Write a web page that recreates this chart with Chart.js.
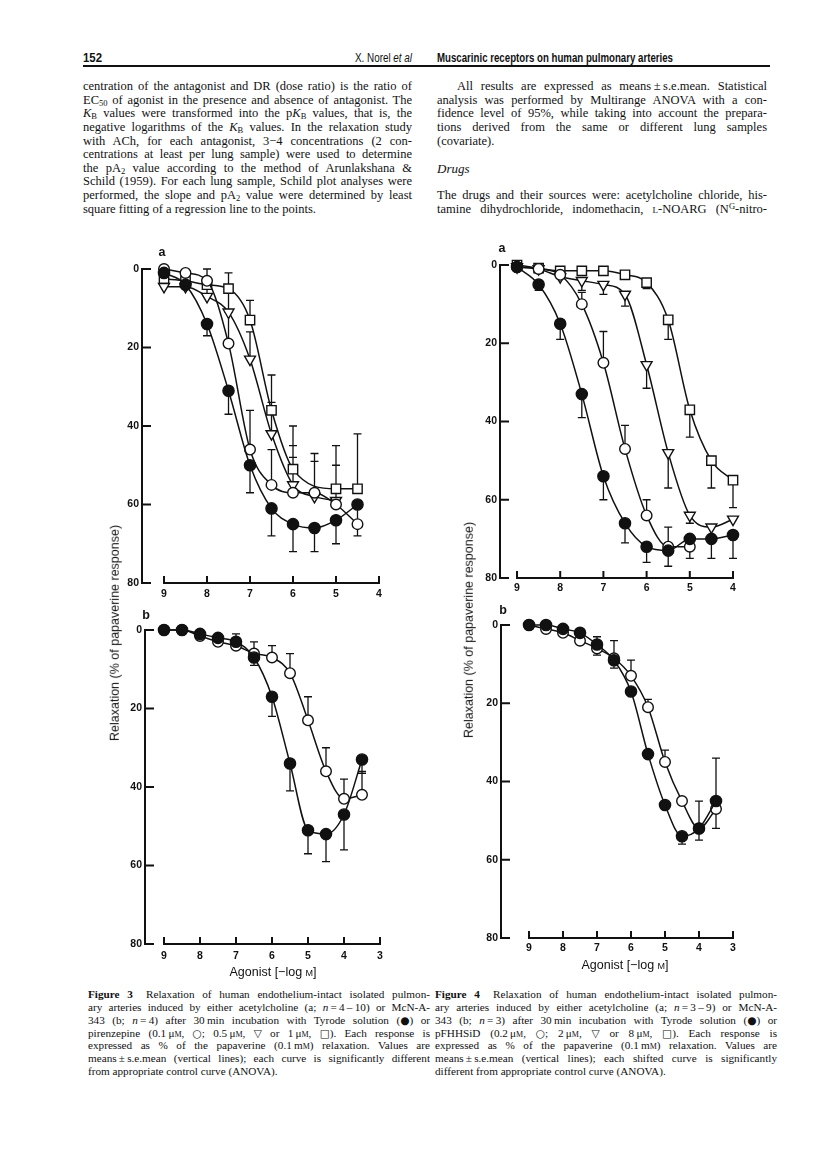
<!DOCTYPE html>
<html><head><meta charset="utf-8">
<script src="https://cdn.jsdelivr.net/npm/chart.js@4.4.0/dist/chart.umd.min.js"></script>
<style>
html,body{margin:0;padding:0;background:#fff;}
body{width:816px;height:1151px;position:relative;overflow:hidden;}
.t{position:absolute;white-space:nowrap;color:#111;line-height:1;}
.serif{font-family:"Liberation Serif","Times New Roman",serif;}
.sans{font-family:"Liberation Sans",Arial,sans-serif;}
.narrow{font-family:"Liberation Sans Narrow","Liberation Sans",Arial,sans-serif;}
.sc{font-variant:small-caps;}
.sym{font-family:"DejaVu Sans",sans-serif;font-size:0.95em;}
sub{font-size:0.68em;vertical-align:-0.28em;line-height:0;}
sup{font-size:0.68em;vertical-align:0.45em;line-height:0;}
canvas{position:absolute;}
.rule{position:absolute;background:#111;}
</style></head><body>
<div class="rule" style="left:83px;top:65px;width:687px;height:1.8px;"></div>
<canvas id="c3a"></canvas><canvas id="c3b"></canvas><canvas id="c4a"></canvas><canvas id="c4b"></canvas>
<script>
// ---------- data ----------
const yTicks = [0, 20, 40, 60, 80];
const xTicksA = [9, 8, 7, 6, 5, 4];
const xTicksB = [9, 8, 7, 6, 5, 4, 3];

// Figure 3a (acetylcholine; Tyrode / pirenzepine 0.1, 0.5, 1 uM)
const f3a_x = [9, 8.5, 8, 7.5, 7, 6.5, 6, 5.5, 5, 4.5];
const f3a_tyrode     = [1, 4, 14, 31, 50, 61, 65, 66, 64, 60];
const f3a_tyrode_sem = [0, 0, 3, 6, 7, 7, 7, 6, 6, 8];
const f3a_pir01      = [0, 1, 3, 19, 46, 55, 57, 57, 60, 65];
const f3a_pir01_sem  = [0, 0, 3, 8, 10, 9, 9, 10, 10, 0];
const f3a_pir05      = [4.5, 4.5, 7, 11, 23, 42, 55, 58, 59, null];
const f3a_pir05_sem  = [0, 0, 4, 6, 7, 8, 10, 9, 0, 0];
const f3a_pir1       = [2.5, 3, 4, 5, 13, 36, 51, null, 56, 56];
const f3a_pir1_sem   = [0, 0, 0, 4, 5, 9, 11, 0, 11, 14];

// Figure 3b (McN-A-343; Tyrode / pirenzepine)
const f3b_x = [9, 8.5, 8, 7.5, 7, 6.5, 6, 5.5, 5, 4.5, 4, 3.5];
const f3b_tyrode     = [0, 0, 1, 2, 3, 7, 17, 34, 51, 52, 47, 33];
const f3b_tyrode_sem = [0, 0, 0, 0, 0, 2, 5, 7, 6, 7, 9, 3.5];
const f3b_pir        = [0, 0, 1.5, 3, 4, 6, 7, 11, 23, 36, 43, 42];
const f3b_pir_sem    = [0, 0, 0, 0, 3, 3, 3, 5, 6, 6, 5, 6];

// Figure 4a (acetylcholine; Tyrode / pFHHSiD 0.2, 2, 8 uM)
const f4a_x = [9, 8.5, 8, 7.5, 7, 6.5, 6, 5.5, 5, 4.5, 4];
const f4a_tyrode     = [0.5, 5, 15, 33, 54, 66, 72, 73, 70, 70, 69];
const f4a_tyrode_sem = [0, 1.5, 4, 6, 6, 5, 4, 4, 5, 5, 6];
const f4a_p02        = [0.5, 1, 2.5, 10, 25, 47, 64, 72, 72, null, null];
const f4a_p02_sem    = [0, 0, 0, 3, 8, 6, 4, 5, 2, 0, 0];
const f4a_p2         = [0.5, 1, 3, 4, 5, 7.5, 25.5, 48, 64, 67, 65];
const f4a_p2_sem     = [0, 0, 0, 2.5, 2.5, 3, 6, 9, 2, 0, 0];
const f4a_p8         = [0, 0.8, 1.5, 1.5, 1.5, 2.5, 4.5, 14, 37, 50, 55];
const f4a_p8_sem     = [0, 0, 0, 0, 0, 1, 1.5, 5, 7, 7, 7];

// Figure 4b (McN-A-343; Tyrode / pFHHSiD)
const f4b_x = [9, 8.5, 8, 7.5, 7, 6.5, 6, 5.5, 5, 4.5, 4, 3.5];
const f4b_tyrode     = [0, 0, 1, 2, 5, 9, 17, 33, 46, 54, 52, 45];
const f4b_tyrode_sem = [0, 0, 0, 0, 2.7, 2, 0, 0, 0, 2, 3, 7];
const f4b_p02        = [0, 1, 2, 4, 6, 8.5, 13, 21, 35, 45, 52, 47];
const f4b_p02_sem    = [0, 0, 0, 0, 3, 4.5, 4, 2, 3, 0, 7, 13];

// ---------- text ----------
const headerLeft = "152";
const headerMid = "X. Norel <i>et al</i>";
const headerRight = "Muscarinic receptors on human pulmonary arteries";
const bodyLeft = [
 "centration of the antagonist and DR (dose ratio) is the ratio of",
 "EC<sub>50</sub> of agonist in the presence and absence of antagonist. The",
 "<i>K</i><sub>B</sub> values were transformed into the p<i>K</i><sub>B</sub> values, that is, the",
 "negative logarithms of the <i>K</i><sub>B</sub> values. In the relaxation study",
 "with ACh, for each antagonist, 3\u22124 concentrations (2 con-",
 "centrations at least per lung sample) were used to determine",
 "the pA<sub>2</sub> value according to the method of Arunlakshana &amp;",
 "Schild (1959). For each lung sample, Schild plot analyses were",
 "performed, the slope and pA<sub>2</sub> value were determined by least",
 "square fitting of a regression line to the points."
];
const bodyRight1 = [
 "All results are expressed as means\u2009\u00b1\u2009s.e.mean. Statistical",
 "analysis was performed by Multirange ANOVA with a con-",
 "fidence level of 95%, while taking into account the prepara-",
 "tions derived from the same or different lung samples",
 "(covariate)."
];
const drugsHead = "<i>Drugs</i>";
const bodyRight2 = [
 "The drugs and their sources were: acetylcholine chloride, his-",
 "tamine dihydrochloride, indomethacin, <span class='sc'>l</span>-NOARG (N<sup>G</sup>-nitro-"
];
const uM = "\u2009\u03bc<span class='sc'>m</span>";
const S = c => "<span class='sym'>" + c + "</span>";
const cap3 = [
 "<b>Figure 3</b>\u2002 Relaxation of human endothelium-intact isolated pulmon-",
 "ary arteries induced by either acetylcholine (a; <i>n</i>\u2009=\u20094\u2009\u2013\u200910) or McN-A-",
 "343 (b; <i>n</i>\u2009=\u20094) after 30\u2009min incubation with Tyrode solution (" + S("\u25cf") + ") or",
 "pirenzepine (0.1" + uM + ", " + S("\u25cb") + "; 0.5" + uM + ", " + S("\u25bd") + " or 1" + uM + ", " + S("\u25a1") + "). Each response is",
 "expressed as % of the papaverine (0.1\u2009m<span class='sc'>m</span>) relaxation. Values are",
 "means\u2009\u00b1\u2009s.e.mean (vertical lines); each curve is significantly different",
 "from appropriate control curve (ANOVA)."
];
const cap4 = [
 "<b>Figure 4</b>\u2002 Relaxation of human endothelium-intact isolated pulmon-",
 "ary arteries induced by either acetylcholine (a; <i>n</i>\u2009=\u20093\u2009\u2013\u20099) or McN-A-",
 "343 (b; <i>n</i>\u2009=\u20093) after 30\u2009min incubation with Tyrode solution (" + S("\u25cf") + ") or",
 "pFHHSiD (0.2" + uM + ", " + S("\u25cb") + "; 2" + uM + ", " + S("\u25bd") + " or 8" + uM + ", " + S("\u25a1") + "). Each response is",
 "expressed as % of the papaverine (0.1\u2009m<span class='sc'>m</span>) relaxation. Values are",
 "means\u2009\u00b1\u2009s.e.mean (vertical lines); each shifted curve is significantly",
 "different from appropriate control curve (ANOVA)."
];
const yTitle = "Relaxation (% of papaverine response)";
const xTitle = "Agonist [\u2212log <span class='sc'>m</span>]";

// ---------- text placement ----------
function place(html, x, y, size, cls, w, mode) {
  const d = document.createElement('div');
  d.className = 't ' + cls;
  d.style.fontSize = size + 'px';
  d.style.left = x + 'px';
  d.style.top = (y - size * 0.52) + 'px';
  d.innerHTML = html;
  document.body.appendChild(d);
  if (w) {
    const nat = d.getBoundingClientRect().width;
    const spaces = (d.textContent.match(/ /g) || []).length;
    if (mode === 'justify' && nat < w && spaces) {
      d.style.wordSpacing = ((w - nat) / spaces) + 'px';
    } else if (nat > w || mode === 'stretch') {
      d.style.transformOrigin = '0 50%';
      d.style.transform = 'scaleX(' + (w / nat) + ')';
    }
  }
  return d;
}
function placeRot(html, cx, cy, size, cls) {
  const d = document.createElement('div');
  d.className = 't ' + cls;
  d.style.fontSize = size + 'px';
  d.style.left = cx + 'px';
  d.style.top = cy + 'px';
  d.style.transform = 'translate(-50%,-50%) rotate(-90deg)';
  d.innerHTML = html;
  document.body.appendChild(d);
}
function placeC(html, cx, cy, size, cls) {
  const d = document.createElement('div');
  d.className = 't ' + cls;
  d.style.fontSize = size + 'px';
  d.style.left = cx + 'px';
  d.style.top = cy + 'px';
  d.style.transform = 'translate(-50%,-50%)';
  d.innerHTML = html;
  document.body.appendChild(d);
}

place("<b>" + headerLeft + "</b>", 83, 58, 12.5, 'sans', 19, 'stretch');
place(headerMid, 355, 58, 12.5, 'narrow', 57, 'stretch');
place("<b>" + headerRight + "</b>", 437, 58, 12.5, 'narrow', 236, 'stretch');

const LH = 13.6, Y0 = 86.7;
bodyLeft.forEach((s, i) => place(s, 83, Y0 + LH * i, 12.5, 'serif', 329, i < bodyLeft.length - 1 ? 'justify' : null));
bodyRight1.forEach((s, i) => {
  if (i === 0) place(s, 457, Y0, 12.5, 'serif', 310, 'justify');
  else place(s, 437, Y0 + LH * i, 12.5, 'serif', 330, i < bodyRight1.length - 1 ? 'justify' : null);
});
place(drugsHead, 437, Y0 + LH * 6, 13, 'serif', 0, null);
bodyRight2.forEach((s, i) => place(s, 437, Y0 + LH * (8 + i), 12.5, 'serif', 330, 'justify'));

const CY0 = 995, CLH = 12.8;
cap3.forEach((s, i) => place(s, 88, CY0 + CLH * i, 11.2, 'serif', 342, i < cap3.length - 1 ? 'justify' : null));
cap4.forEach((s, i) => place(s, 435, CY0 + CLH * i, 11.2, 'serif', 342, i < cap4.length - 1 ? 'justify' : null));

placeRot(yTitle, 115, 633, 12.5, 'sans');
placeRot(yTitle, 469, 630, 12.5, 'sans');
placeC(xTitle, 273, 972, 12.5, 'sans');
placeC(xTitle, 625, 965, 12.5, 'sans');
placeC("<b>a</b>", 162, 252, 12.5, 'sans');
placeC("<b>b</b>", 146, 615, 12.5, 'sans');
placeC("<b>a</b>", 502, 248, 12.5, 'sans');
placeC("<b>b</b>", 503, 610, 12.5, 'sans');

// ---------- charts ----------
const INK = '#111';
const MARK = {
  filled: {pointStyle: 'circle', pointRadius: 5.6, pointBackgroundColor: INK},
  open:   {pointStyle: 'circle', pointRadius: 5.3, pointBackgroundColor: '#fff'},
  tri:    {pointStyle: 'triangle', pointRotation: 180, pointRadius: 6.3, pointBackgroundColor: '#fff'},
  sq:     {pointStyle: 'rect', pointRadius: 6.6, pointBackgroundColor: '#fff'}
};
function series(xs, ys, sem, side, mk) {
  return Object.assign({
    data: xs.map((x, i) => ({x: x, y: ys[i]})),
    sem: sem, errSide: side,
    borderColor: INK, borderWidth: 1.5,
    pointBorderColor: INK, pointBorderWidth: 1.4,
    cubicInterpolationMode: 'monotone', spanGaps: true, clip: false, fill: false
  }, MARK[mk]);
}
function paperAxes(xFrom, xTo) {
  return {
    id: 'paperAxes',
    beforeDatasetsDraw(chart) {
      const ctx = chart.ctx, x = chart.scales.x, y = chart.scales.y, a = chart.chartArea;
      ctx.save();
      ctx.strokeStyle = INK; ctx.lineWidth = 2; ctx.lineCap = 'butt';
      ctx.beginPath();
      ctx.moveTo(a.left, y.getPixelForValue(yTicks[0]) - 1);
      ctx.lineTo(a.left, y.getPixelForValue(yTicks[yTicks.length - 1]) + 1);
      y.ticks.forEach(t => { const py = y.getPixelForValue(t.value); ctx.moveTo(a.left, py); ctx.lineTo(a.left + 9, py); });
      ctx.moveTo(x.getPixelForValue(xFrom) - 1, a.bottom);
      ctx.lineTo(x.getPixelForValue(xTo) + 1, a.bottom);
      x.ticks.forEach(t => { const px = x.getPixelForValue(t.value); ctx.moveTo(px, a.bottom); ctx.lineTo(px, a.bottom - 7); });
      ctx.stroke();
      // error bars (mean +/- s.e.mean)
      ctx.lineWidth = 1.3;
      ctx.beginPath();
      chart.data.datasets.forEach(ds => {
        if (!ds.sem) return;
        ds.data.forEach((p, j) => {
          const s = ds.sem[j];
          if (p.y == null || !s) return;
          const px = x.getPixelForValue(p.x), p0 = y.getPixelForValue(p.y);
          const ends = [];
          if (ds.errSide !== 'down') ends.push(p.y - s);
          if (ds.errSide !== 'up') ends.push(p.y + s);
          ends.forEach(v => {
            const pe = y.getPixelForValue(v);
            ctx.moveTo(px, p0); ctx.lineTo(px, pe);
            ctx.moveTo(px - 4, pe); ctx.lineTo(px + 4, pe);
          });
        });
      });
      ctx.stroke();
      ctx.restore();
    }
  };
}
function makeChart(id, box, xMax, xMin, xTicks, datasets, xPad) {
  const cv = document.getElementById(id);
  const W = box.R - box.L + 65, H = box.B - box.T + 50;
  cv.width = W; cv.height = H;
  cv.style.left = (box.L - 50) + 'px';
  cv.style.top = (box.T - 20) + 'px';
  cv.style.width = W + 'px'; cv.style.height = H + 'px';
  const tickFont = {family: 'Liberation Sans', size: 10.5, weight: 'bold'};
  new Chart(cv.getContext('2d'), {
    type: 'line',
    data: {datasets: datasets},
    options: {
      responsive: false, animation: false, events: [],
      layout: {padding: {left: 10, right: 15, top: 20, bottom: 0}},
      plugins: {legend: {display: false}, tooltip: {enabled: false}},
      scales: {
        x: {
          type: 'linear', reverse: true, min: xMin, max: xMax,
          grid: {display: false, drawTicks: false}, border: {display: false},
          afterBuildTicks: s => { s.ticks = xTicks.map(v => ({value: v})); },
          afterFit: s => { s.height = 30; },
          ticks: {color: INK, font: tickFont, padding: xPad, maxRotation: 0, autoSkip: false, callback: v => String(v)}
        },
        y: {
          type: 'linear', reverse: true, min: yTicks[0], max: yTicks[yTicks.length - 1],
          grid: {display: false, drawTicks: false}, border: {display: false},
          afterBuildTicks: s => { s.ticks = yTicks.map(v => ({value: v})); },
          afterFit: s => { s.width = 40; },
          ticks: {color: INK, font: tickFont, padding: 3, callback: v => String(v)}
        }
      }
    },
    plugins: [paperAxes(xTicks[0], xTicks[xTicks.length - 1])]
  });
}

makeChart('c3a', {L: 142, T: 269, R: 379, B: 583}, 9.512, 4, xTicksA, [
  series(f3a_x, f3a_tyrode, f3a_tyrode_sem, 'down', 'filled'),
  series(f3a_x, f3a_pir01, f3a_pir01_sem, 'up', 'open'),
  series(f3a_x, f3a_pir05, f3a_pir05_sem, 'up', 'tri'),
  series(f3a_x, f3a_pir1, f3a_pir1_sem, 'up', 'sq')
], 5);
makeChart('c3b', {L: 145, T: 630, R: 380, B: 944}, 9.528, 3, xTicksB, [
  series(f3b_x, f3b_tyrode, f3b_tyrode_sem, 'down', 'filled'),
  series(f3b_x, f3b_pir, f3b_pir_sem, 'up', 'open')
], 6);
makeChart('c4a', {L: 500, T: 265, R: 733, B: 578}, 9.394, 4, xTicksA, [
  series(f4a_x, f4a_tyrode, f4a_tyrode_sem, 'down', 'filled'),
  series(f4a_x, f4a_p02, f4a_p02_sem, 'up', 'open'),
  series(f4a_x, f4a_p2, f4a_p2_sem, 'down', 'tri'),
  series(f4a_x, f4a_p8, f4a_p8_sem, 'down', 'sq')
], 4);
makeChart('c4b', {L: 501, T: 625, R: 733, B: 938}, 9.824, 3, xTicksB, [
  series(f4b_x, f4b_tyrode, f4b_tyrode_sem, 'down', 'filled'),
  series(f4b_x, f4b_p02, f4b_p02_sem, 'up', 'open')
], 4);
</script>
</body></html>
